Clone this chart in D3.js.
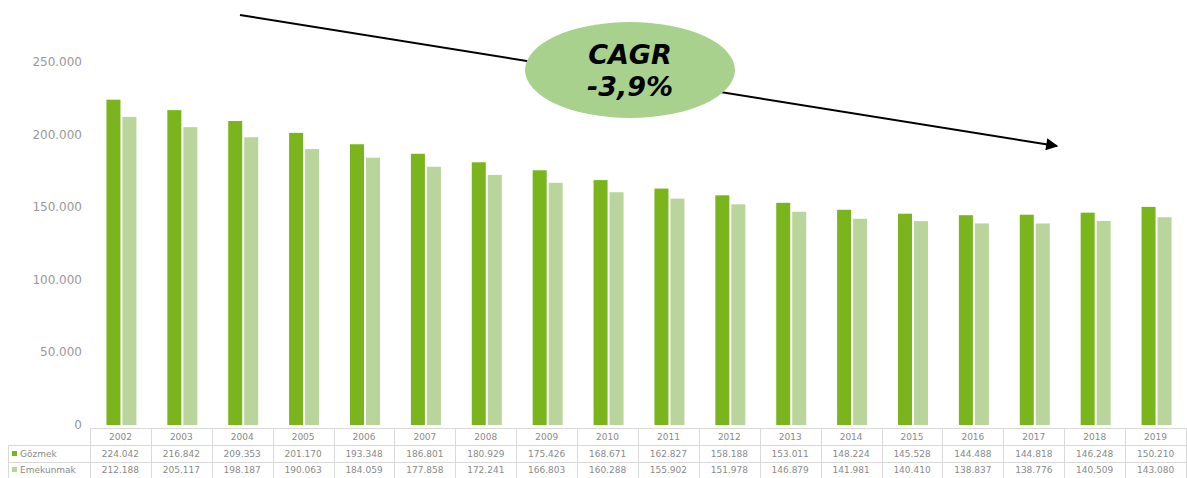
<html lang="tr">
<head>
  <meta charset="utf-8">
  <title>CAGR -3,9%</title>
  <script src="https://cdnjs.cloudflare.com/ajax/libs/d3/7.8.5/d3.min.js"></script>
  <style>
    body { margin: 0; background: #fff; font-family: 'DejaVu Sans', sans-serif; }
    .tick_lbl { fill: #999; font-size: 12px; }
    .tbl { fill: #8a8a8a; font-size: 9px; }
  </style>
</head>
<body>
  <svg id = 'canvas' style = 'width: 1187px; height: 478px;'></svg>

<script>

var years = ['2002','2003','2004','2005','2006','2007','2008','2009','2010','2011','2012','2013','2014','2015','2016','2017','2018','2019'];
var series_names = ['Gözmek', 'Emekunmak'];
var series_1 = [224042, 216842, 209353, 201170, 193348, 186801, 180929, 175426, 168671, 162827, 158188, 153011, 148224, 145528, 144488, 144818, 146248, 150210];
var series_2 = [212188, 205117, 198187, 190063, 184059, 177858, 172241, 166803, 160288, 155902, 151978, 146879, 141981, 140410, 138837, 138776, 140509, 143080];
var y_ticks = [0, 50000, 100000, 150000, 200000, 250000];
var cagr_lines = ['CAGR', '-3,9%'];

var colors = ['#7ab51d', '#b9d59c'];

var locale = d3.formatLocale({ decimal: ',', thousands: '.', grouping: [3], currency: ['', ''] });
var fmt = locale.format(',');

var svg = d3.select('#canvas');

/*******************************************************************************/
// scales

var xScale = d3.scaleBand().domain(years).range([90, 1186]);
var yScale = d3.scaleLinear().domain([0, 250000]).range([425, 62]);

/*******************************************************************************/
// y axis labels

svg.selectAll('.tick_lbl').data(y_ticks).enter()
  .append('text').attr('class', 'tick_lbl')
  .attr('x', 82).attr('y', function(d){ return yScale(d) + 4; })
  .attr('text-anchor', 'end')
  .text(function(d){ return d == 0 ? '0' : fmt(d); });

/*******************************************************************************/
// bars

var bw = 14;
svg.append('g').selectAll('rect').data(series_1).enter()
  .append('rect')
  .attr('x', function(d, i){ return xScale(years[i]) + xScale.bandwidth()/2 - bw; })
  .attr('y', function(d){ return yScale(d); })
  .attr('width', bw)
  .attr('height', function(d){ return yScale(0) - yScale(d); })
  .attr('fill', colors[0]);

svg.append('g').selectAll('rect').data(series_2).enter()
  .append('rect')
  .attr('x', function(d, i){ return xScale(years[i]) + xScale.bandwidth()/2 + 2; })
  .attr('y', function(d){ return yScale(d); })
  .attr('width', bw)
  .attr('height', function(d){ return yScale(0) - yScale(d); })
  .attr('fill', colors[1]);

/*******************************************************************************/
// data table

var row_y = [428, 445, 462, 478];
var grid = svg.append('g').attr('stroke', '#d9d9d9').attr('stroke-width', 1);
row_y.forEach(function(y, i){
  grid.append('line')
    .attr('x1', i == 0 ? 90 : 8).attr('x2', 1186)
    .attr('y1', y + 0.5).attr('y2', y + 0.5);
});
years.forEach(function(yr){
  grid.append('line')
    .attr('x1', Math.round(xScale(yr)) + 0.5).attr('x2', Math.round(xScale(yr)) + 0.5)
    .attr('y1', row_y[0]).attr('y2', row_y[3]);
});
grid.append('line').attr('x1', 8.5).attr('x2', 8.5).attr('y1', row_y[1]).attr('y2', row_y[3]);
grid.append('line').attr('x1', 1186.5).attr('x2', 1186.5).attr('y1', row_y[0]).attr('y2', row_y[3]);

svg.append('g').selectAll('text').data(years).enter()
  .append('text').attr('class', 'tbl')
  .attr('x', function(d){ return xScale(d) + xScale.bandwidth()/2; })
  .attr('y', 440).attr('text-anchor', 'middle')
  .text(function(d){ return d; });

[series_1, series_2].forEach(function(s, k){
  svg.append('g').selectAll('text').data(s).enter()
    .append('text').attr('class', 'tbl')
    .attr('x', function(d, i){ return xScale(years[i]) + xScale.bandwidth()/2; })
    .attr('y', 457 + k*16).attr('text-anchor', 'middle')
    .text(function(d){ return fmt(d); });

  svg.append('rect').attr('x', 12).attr('y', 451 + k*16).attr('width', 5).attr('height', 5).attr('fill', colors[k]);
  svg.append('text').attr('class', 'tbl').attr('x', 20).attr('y', 457 + k*16).text(series_names[k]);
});

/*******************************************************************************/
// trend arrow and CAGR bubble

svg.append('defs').append('marker')
  .attr('id', 'arrow').attr('viewBox', '0 0 10 10')
  .attr('refX', 9).attr('refY', 5)
  .attr('markerWidth', 8).attr('markerHeight', 6)
  .attr('markerUnits', 'strokeWidth').attr('orient', 'auto')
  .append('path').attr('d', 'M0,0 L10,5 L0,10 z').attr('fill', '#000');

svg.append('line')
  .attr('x1', 240).attr('y1', 15).attr('x2', 1057).attr('y2', 146)
  .attr('stroke', '#000').attr('stroke-width', 2)
  .attr('marker-end', 'url(#arrow)');

svg.append('ellipse')
  .attr('cx', 630).attr('cy', 70).attr('rx', 105).attr('ry', 48)
  .attr('fill', '#a9d18e');

svg.append('g').selectAll('text').data(cagr_lines).enter()
  .append('text')
  .attr('x', 630).attr('y', function(d, i){ return 64 + i*32; })
  .attr('text-anchor', 'middle')
  .style('font-family', 'DejaVu Sans, sans-serif')
  .style('font-size', '27px').style('font-weight', 'bold').style('font-style', 'italic')
  .text(function(d){ return d; });

</script>
</body>
</html>
